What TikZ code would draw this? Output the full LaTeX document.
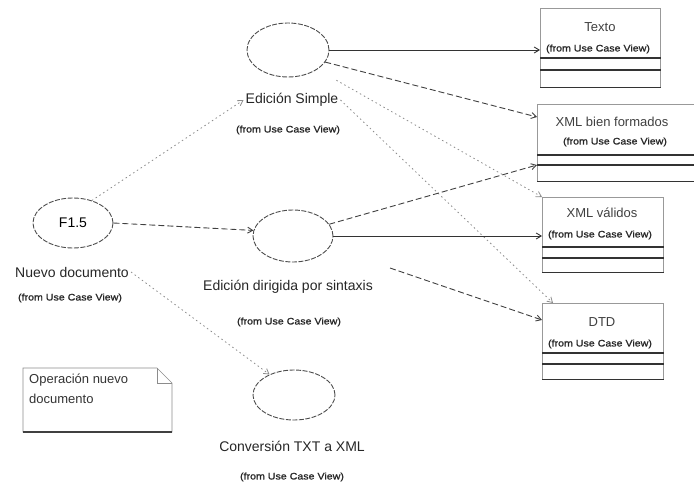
\documentclass[tikz,border=0pt]{standalone}
\usepackage{fontspec}
\setmainfont{Liberation Sans}
\newfontfamily\fromfont{Liberation Sans}[FakeStretch=1.12,FakeBold=1.2]
\usetikzlibrary{shapes.geometric,arrows.meta}

\begin{document}
\begin{tikzpicture}[x=1pt,y=-1pt,
  usecase/.style={ellipse, draw=black!70, line width=0.9pt,
    dash pattern=on 5pt off 1.5pt, inner sep=0pt, font=\fontsize{14}{16}\selectfont},
  uclabel/.style={inner sep=2pt, text=black!85, font=\fontsize{14}{16}\selectfont},
  fromlabel/.style={inner sep=1pt, text=black!85, font=\fromfont\fontsize{9.5}{11}\selectfont},
  classbox/.style={rectangle, draw=black!40, line width=0.6pt, anchor=north west, inner sep=0pt},
  classtitle/.style={inner sep=1pt, text=black!75, font=\fontsize{13}{15}\selectfont},
  compline/.style={draw=black!80, line width=1.1pt},
  tip/.style={-{Straight Barb[length=5pt,width=6pt]}},
  solidlink/.style={tip, draw=black!80, line width=0.9pt},
  dashlink/.style={tip, draw=black!75, line width=0.9pt, dash pattern=on 6pt off 3pt},
  dotlink/.style={tip, draw=black!45, line width=0.8pt, dash pattern=on 1.5pt off 3pt},
  notebox/.style={draw=black!45, line width=0.6pt}
]
\useasboundingbox (0,0) rectangle (694,487);

% ---- use cases ----
\node[usecase, minimum width=80pt, minimum height=50pt] (f15) at (73,223) {F1.5};
\node[uclabel] (nuevolbl) at (72,272) {Nuevo documento};
\node[fromlabel] (nuevofrom) at (70,298) {(from Use Case View)};

\node[usecase, minimum width=82pt, minimum height=54pt] (simple) at (288,50) {};
\node[uclabel] (simplelbl) at (292,100) {Edición Simple};
\node[fromlabel] (simplefrom) at (288,130) {(from Use Case View)};

\node[usecase, minimum width=80pt, minimum height=52pt] (dirigida) at (293,236) {};
\node[uclabel] (dirigidalbl) at (288,287) {Edición dirigida por sintaxis};
\node[fromlabel] (dirigidafrom) at (289,322) {(from Use Case View)};

\node[usecase, minimum width=82pt, minimum height=50pt] (conv) at (294,395) {};
\node[uclabel] (convlbl) at (292,446) {Conversión TXT a XML};
\node[fromlabel] (convfrom) at (292,477) {(from Use Case View)};

% ---- note ----
\draw[notebox] (23,368) -- (157,368) -- (172,383) -- (172,432) -- (23,432) -- cycle;
\draw[notebox] (157,368) -- (157,383) -- (172,383);
\draw[draw=black!75, line width=1.1pt] (23,432) -- (172,432);
\node[anchor=north west, inner sep=0pt, align=left, text=black!80,
  font=\fontsize{13}{20}\selectfont] (notetxt) at (29,374) {Operación nuevo\\documento};

% ---- classes ----
\node[classbox, minimum width=120pt, minimum height=79pt] (texto) at (540,8) {};
\node[classtitle] (textoT) at (600,27) {Texto};
\node[fromlabel] (textoF) at (598,49) {(from Use Case View)};
\draw[compline] ([yshift=-50pt]texto.north west) -- ([yshift=-50pt]texto.north east);
\draw[compline] ([yshift=-62pt]texto.north west) -- ([yshift=-62pt]texto.north east);
\draw[compline] (texto.south west) -- (texto.south east);

\node[classbox, minimum width=157pt, minimum height=77pt] (bien) at (537,104) {};
\node[classtitle] (bienT) at (612,122) {XML bien formados};
\node[fromlabel] (bienF) at (615,142) {(from Use Case View)};
\draw[compline] ([yshift=-51pt]bien.north west) -- ([yshift=-51pt]bien.north east);
\draw[compline] ([yshift=-61pt]bien.north west) -- ([yshift=-61pt]bien.north east);
\draw[compline] (bien.south west) -- (bien.south east);

\node[classbox, minimum width=121pt, minimum height=75pt] (valido) at (542,197) {};
\node[classtitle] (validoT) at (602,213) {XML válidos};
\node[fromlabel] (validoF) at (600,235) {(from Use Case View)};
\draw[compline] ([yshift=-50pt]valido.north west) -- ([yshift=-50pt]valido.north east);
\draw[compline] ([yshift=-61pt]valido.north west) -- ([yshift=-61pt]valido.north east);
\draw[compline] (valido.south west) -- (valido.south east);

\node[classbox, minimum width=121pt, minimum height=76pt] (dtd) at (542,303) {};
\node[classtitle] (dtdT) at (602,322) {DTD};
\node[fromlabel] (dtdF) at (600,344) {(from Use Case View)};
\draw[compline] ([yshift=-50pt]dtd.north west) -- ([yshift=-50pt]dtd.north east);
\draw[compline] ([yshift=-61pt]dtd.north west) -- ([yshift=-61pt]dtd.north east);
\draw[compline] (dtd.south west) -- (dtd.south east);

% ---- connectors ----
\draw[dotlink] (f15.50) -- (simplelbl.west);
\draw[dashlink] (f15.east) -- (dirigida.172);
\draw[dotlink] (nuevolbl.east) -- (conv.140);

\draw[solidlink] (simple.east) -- (texto.west |- simple.east);
\draw[dashlink] (simple.-18) -- ([yshift=-13pt]bien.north west);
\draw[dotlink, shorten <=22pt] (simple.south east) -- (valido.north west);
\draw[dotlink] (simplelbl.east) -- ([xshift=11pt]dtd.north west);

\draw[dashlink] (dirigida.18) -- ([yshift=-61pt]bien.north west);
\draw[solidlink] (dirigida.east) -- (valido.west |- dirigida.east);
\coordinate (dirgap) at (390,268);
\draw[dashlink] (dirgap) -- ([yshift=-17pt]dtd.north west);
\end{tikzpicture}
\end{document}
